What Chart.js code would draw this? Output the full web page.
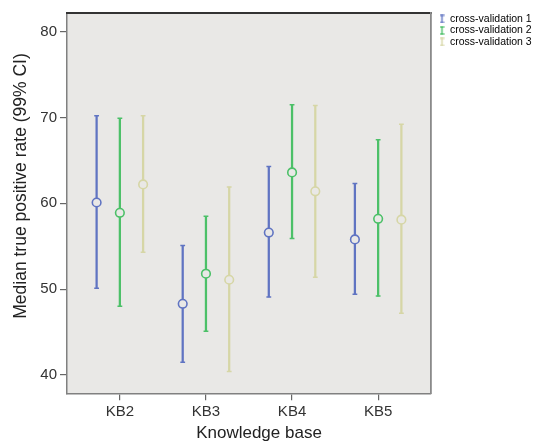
<!DOCTYPE html>
<html>
<head>
<meta charset="utf-8">
<script src="https://cdn.jsdelivr.net/npm/chart.js@4.4.0/dist/chart.umd.min.js"></script>
<style>
  html, body { margin: 0; padding: 0; background: #ffffff; }
  #wrap { width: 548px; height: 442px; position: relative; }
</style>
</head>
<body>
<div id="wrap"><canvas id="ciChart"></canvas></div>
<script>
// Median true positive rate with 99% CI per knowledge base
const categories = ['KB2', 'KB3', 'KB4', 'KB5'];
const seriesNames = ['cross-validation 1', 'cross-validation 2', 'cross-validation 3'];

const cv1Median = [60.1, 48.3, 56.6, 55.8];
const cv1Low    = [50.1, 41.5, 49.1, 49.4];
const cv1High   = [70.2, 55.1, 64.3, 62.3];

const cv2Median = [58.9, 51.8, 63.6, 58.2];
const cv2Low    = [48.0, 45.1, 55.9, 49.2];
const cv2High   = [69.9, 58.5, 71.5, 67.4];

const cv3Median = [62.2, 51.1, 61.4, 58.1];
const cv3Low    = [54.3, 40.4, 51.4, 47.2];
const cv3High   = [70.2, 61.9, 71.4, 69.2];

const yTicks = [40, 50, 60, 70, 80];

const xTitle = 'Knowledge base';
const yTitle = 'Median true positive rate (99% CI)';

const colors = ['#6074c2', '#4cc068', '#d6d6a6'];
const plotBg = '#e9e8e6';
const offsets = [-0.27, 0, 0.27];

const series = [
    { median: cv1Median, low: cv1Low, high: cv1High },
    { median: cv2Median, low: cv2Low, high: cv2High },
    { median: cv3Median, low: cv3Low, high: cv3High }
];

// small I-beam icon for the legend
function errorIcon(color) {
    const c = document.createElement('canvas');
    c.width = 5;
    c.height = 9;
    const g = c.getContext('2d');
    g.strokeStyle = color;
    g.lineWidth = 1.4;
    g.beginPath();
    g.moveTo(2.5, 1); g.lineTo(2.5, 8);
    g.moveTo(0.5, 1); g.lineTo(4.5, 1);
    g.moveTo(0.5, 8); g.lineTo(4.5, 8);
    g.stroke();
    return c;
}
const icons = colors.map(errorIcon);

const datasets = [];
series.forEach((s, i) => {
    const off = offsets[i];
    datasets.push({
        type: 'bar',
        label: seriesNames[i] + ' CI',
        data: categories.map((c, j) => ({ x: j + off, y: [s.low[j], s.high[j]] })),
        backgroundColor: colors[i],
        barThickness: 1.6,
        grouped: false,
        order: 2
    });
    datasets.push({
        type: 'scatter',
        label: seriesNames[i] + ' caps',
        data: categories.map((c, j) => ({ x: j + off, y: s.low[j] }))
            .concat(categories.map((c, j) => ({ x: j + off, y: s.high[j] }))),
        pointStyle: 'line',
        pointRadius: 2.4,
        borderColor: colors[i],
        borderWidth: 1.5,
        order: 1
    });
    datasets.push({
        type: 'scatter',
        label: seriesNames[i],
        data: categories.map((c, j) => ({ x: j + off, y: s.median[j] })),
        pointStyle: 'circle',
        pointRadius: 4.3,
        borderColor: colors[i],
        backgroundColor: plotBg,
        borderWidth: 1.6,
        order: 0
    });
});

const plotBackground = {
    id: 'plotBackground',
    beforeDraw(chart) {
        const a = chart.chartArea;
        const ctx = chart.ctx;
        ctx.save();
        ctx.fillStyle = plotBg;
        ctx.fillRect(a.left, a.top, a.right - a.left, a.bottom - a.top);
        ctx.restore();
    }
};

// let legend text run to the canvas edge instead of being clipped
const legendOverflow = {
    id: 'legendOverflow',
    afterLayout(chart) {
        if (chart.legend) {
            chart.legend.right = chart.width;
            chart.legend.width = chart.width - chart.legend.left;
        }
    }
};

// axis titles, placed a little off-centre like the original
const axisTitles = {
    id: 'axisTitles',
    afterDraw(chart) {
        const a = chart.chartArea;
        const ctx = chart.ctx;
        ctx.save();
        ctx.fillStyle = '#222';
        ctx.textAlign = 'center';
        ctx.textBaseline = 'middle';
        ctx.font = '17px Liberation Sans';
        ctx.fillText(xTitle, (a.left + a.right) / 2 + 10, 433);
        ctx.translate(21, (a.top + a.bottom) / 2 - 17);
        ctx.rotate(-Math.PI / 2);
        ctx.font = '17.5px Liberation Sans';
        ctx.fillText(yTitle, 0, 0);
        ctx.restore();
    }
};

const ctx = document.getElementById('ciChart').getContext('2d');
const ciChart = new Chart(ctx, {
    type: 'scatter',
    data: { datasets: datasets },
    plugins: [plotBackground, legendOverflow, axisTitles],
    options: {
        responsive: true,
        maintainAspectRatio: false,
        animation: false,
        layout: { padding: { top: 12.7, left: 0, right: 19.75, bottom: 0 } },
        plugins: {
            tooltip: { enabled: false },
            legend: {
                position: 'right',
                align: 'start',
                maxWidth: 90,
                labels: {
                    usePointStyle: true,
                    pointStyleWidth: 5.5,
                    padding: 1,
                    color: '#2a2a2a',
                    font: { family: 'Liberation Sans', size: 10.5 },
                    generateLabels: () => seriesNames.map((name, i) => ({
                        text: name,
                        pointStyle: icons[i],
                        fillStyle: colors[i],
                        strokeStyle: colors[i],
                        lineWidth: 0,
                        hidden: false,
                        datasetIndex: i * 3 + 2
                    }))
                }
            }
        },
        scales: {
            x: {
                type: 'linear',
                min: -0.614,
                max: 3.614,
                offset: false,
                grid: { display: true, offset: false, drawOnChartArea: false, drawTicks: true, tickLength: 7, color: '#666', lineWidth: 1.2 },
                border: { display: true, color: '#808080', width: 1.5 },
                afterBuildTicks: s => { s.ticks = categories.map((c, i) => ({ value: i })); },
                afterFit: s => { s.height = 48.7; },
                ticks: {
                    padding: 3,
                    color: '#333',
                    font: { family: 'Liberation Sans', size: 15 },
                    callback: v => categories[v]
                }
            },
            y: {
                type: 'linear',
                min: 37.87,
                max: 82.21,
                beginAtZero: false,
                grid: { display: true, drawOnChartArea: false, drawTicks: true, tickLength: 7, color: '#666', lineWidth: 1.2 },
                border: { display: true, color: '#808080', width: 1.5 },
                afterBuildTicks: s => { s.ticks = yTicks.map(v => ({ value: v })); },
                afterFit: s => { s.width = 67; },
                ticks: {
                    padding: 3,
                    color: '#333',
                    font: { family: 'Liberation Sans', size: 15 }
                }
            },
            xTop: {
                axis: 'x',
                type: 'linear',
                position: 'top',
                min: 0,
                max: 1,
                grid: { display: false, drawTicks: false },
                ticks: { display: false },
                border: { display: true, color: '#333', width: 2 },
                afterFit: s => { s.height = 0; }
            },
            yRight: {
                axis: 'y',
                type: 'linear',
                position: 'right',
                min: 0,
                max: 1,
                grid: { display: false, drawTicks: false },
                ticks: { display: false },
                border: { display: true, color: '#8a8a8a', width: 1.8 },
                afterFit: s => { s.width = 7.25; }
            }
        }
    }
});
</script>
</body>
</html>
